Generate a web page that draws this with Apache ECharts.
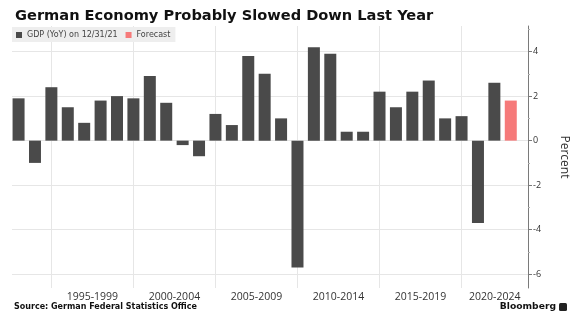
<!DOCTYPE html>
<html>
<head>
<meta charset="utf-8">
<script src="https://cdn.jsdelivr.net/npm/echarts@6/dist/echarts.min.js"></script>
<style>
  html, body { margin: 0; padding: 0; background: #ffffff; }
  #chart { width: 578px; height: 330px; }
</style>
</head>
<body>
<div id="chart"></div>
<script>
// Texts
const titleText = 'German Economy Probably Slowed Down Last Year';
const sourceText = 'Source: German Federal Statistics Office';
const brandText = 'Bloomberg';
const gdpName = 'GDP (YoY) on 12/31/21';
const forecastName = 'Forecast';
const yAxisName = 'Percent';

// Annual GDP growth, percent
const gdpYears = [1992, 1993, 1994, 1995, 1996, 1997, 1998, 1999, 2000, 2001,
                  2002, 2003, 2004, 2005, 2006, 2007, 2008, 2009, 2010, 2011,
                  2012, 2013, 2014, 2015, 2016, 2017, 2018, 2019, 2020, 2021];
const gdpValues = [1.9, -1.0, 2.4, 1.5, 0.8, 1.8, 2.0, 1.9, 2.9, 1.7,
                   -0.2, -0.7, 1.2, 0.7, 3.8, 3.0, 1.0, -5.7, 4.2, 3.9,
                   0.4, 0.4, 2.2, 1.5, 2.2, 2.7, 1.0, 1.1, -3.7, 2.6];
const forecastYears = [2022];
const forecastValues = [1.8];

// Five-year periods on the time axis
const periodStarts = [1995, 2000, 2005, 2010, 2015, 2020];
const periodLabels = ['1995-1999', '2000-2004', '2005-2009', '2010-2014', '2015-2019', '2020-2024'];

// Value axis ticks
const yTicks = [-6, -4, -2, 0, 2, 4];
const yMinorTicks = [-5, -3, -1, 1, 3, 5];

// Axis extents (each year's bar sits at its year-end)
const xMin = 1991.6, xMax = 2023.05;
const yMin = -6.62, yMax = 5.15;

// A period begins at the year-end of the previous year
const dividers = periodStarts.map(s => s - 1);
const labelCenters = dividers.map(d => (d + Math.min(d + 5, xMax)) / 2);

function periodLabelAt(v) {
  let best = 0;
  labelCenters.forEach((c, i) => {
    if (Math.abs(c - v) < Math.abs(labelCenters[best] - v)) best = i;
  });
  return periodLabels[best];
}

const chart = echarts.init(document.getElementById('chart'), null, { renderer: 'canvas' });

const gridColor = '#e6e6e6';
const axisColor = '#7a7a7a';
const textColor = '#333333';

chart.setOption({
  animation: false,
  backgroundColor: '#ffffff',
  title: {
    text: titleText,
    left: 10,
    top: 4,
    textStyle: {
      fontFamily: 'DejaVu Sans',
      fontWeight: 'bold',
      fontSize: 14.6,
      color: '#111111'
    }
  },
  legend: {
    left: 12,
    top: 27,
    icon: 'rect',
    itemWidth: 6,
    itemHeight: 6,
    itemGap: 8,
    padding: [4, 5, 3, 4],
    backgroundColor: '#eeeeee',
    textStyle: { fontFamily: 'DejaVu Sans', fontSize: 8, color: '#444444' },
    data: [gdpName, forecastName]
  },
  grid: { left: 12, right: 44.7, top: 26, bottom: 42, containLabel: false },
  xAxis: {
    type: 'value',
    min: xMin,
    max: xMax,
    axisLine: { show: false },
    axisTick: { show: false, customValues: dividers },
    splitLine: { show: true, lineStyle: { color: gridColor, width: 1 } },
    axisLabel: {
      customValues: labelCenters,
      formatter: v => periodLabelAt(v),
      fontFamily: 'Open Sans',
      fontSize: 10.5,
      color: textColor,
      margin: 4
    }
  },
  yAxis: [
    {
      type: 'value',
      position: 'right',
      min: yMin,
      max: yMax,
      axisLine: { show: true, lineStyle: { color: axisColor, width: 1 } },
      axisTick: { show: true, customValues: yTicks, length: 4, lineStyle: { color: axisColor } },
      axisLabel: {
        customValues: yTicks,
        fontFamily: 'Open Sans',
        fontSize: 9,
        color: textColor,
        margin: 5
      },
      splitLine: { show: true, lineStyle: { color: gridColor, width: 1 } },
      name: yAxisName,
      nameLocation: 'middle',
      nameRotate: -90,
      nameGap: 30,
      nameTextStyle: { fontFamily: 'Open Sans', fontSize: 12, color: textColor }
    },
    {
      type: 'value',
      position: 'right',
      min: yMin,
      max: yMax,
      axisLine: { show: false },
      axisTick: { show: true, customValues: yMinorTicks, length: 2, lineStyle: { color: '#b0b0b0' } },
      axisLabel: { show: false },
      splitLine: { show: false }
    }
  ],
  series: [
    {
      name: gdpName,
      type: 'bar',
      stack: 'gdp',
      barWidth: 12,
      itemStyle: { color: '#4a4a4a' },
      data: gdpYears.map((y, i) => [y, gdpValues[i]])
    },
    {
      name: forecastName,
      type: 'bar',
      stack: 'gdp',
      barWidth: 12,
      itemStyle: { color: '#f67a7a' },
      data: forecastYears.map((y, i) => [y, forecastValues[i]])
    }
  ],
  graphic: [
    {
      type: 'text',
      left: 14,
      top: 303,
      style: {
        text: sourceText,
        font: 'bold 8px "DejaVu Sans"',
        fill: '#111111'
      }
    },
    {
      type: 'text',
      right: 22,
      top: 302,
      style: {
        text: brandText,
        font: 'bold 9.2px "DejaVu Sans"',
        fill: '#111111'
      }
    },
    {
      type: 'rect',
      right: 11,
      top: 303,
      shape: { width: 8, height: 8, r: 1.5 },
      style: { fill: '#222222' }
    }
  ]
});
</script>
</body>
</html>
